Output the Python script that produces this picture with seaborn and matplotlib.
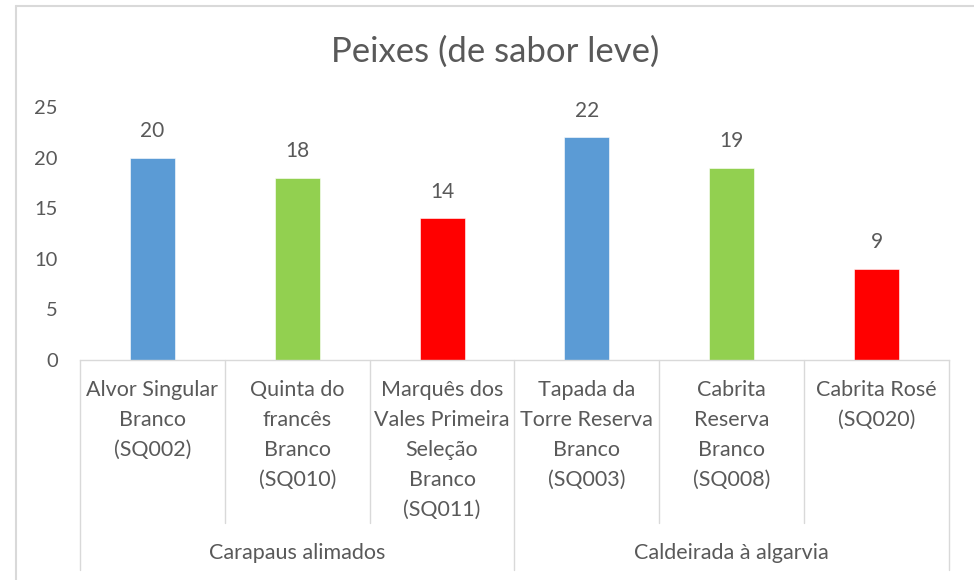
import matplotlib
matplotlib.use('Agg')
import matplotlib.pyplot as plt
import seaborn as sns
import pandas as pd
from matplotlib.lines import Line2D

title = "Peixes (de sabor leve)"
wines = ["Alvor Singular\nBranco\n(SQ002)",
         "Quinta do\nfrancês\nBranco\n(SQ010)",
         "Marquês dos\nVales Primeira\nSeleção\nBranco\n(SQ011)",
         "Tapada da\nTorre Reserva\nBranco\n(SQ003)",
         "Cabrita\nReserva\nBranco\n(SQ008)",
         "Cabrita Rosé\n(SQ020)"]
values = [20, 18, 14, 22, 19, 9]
bar_colors = ["#5B9BD5", "#92D050", "#FF0000", "#5B9BD5", "#92D050", "#FF0000"]
group_names = ["Carapaus alimados", "Caldeirada à algarvia"]
group_sizes = [3, 3]
yticks = [0, 5, 10, 15, 20, 25]

TXT = "#595959"
LINE = "#D9D9D9"

sns.set_theme(style="white")
plt.rcParams['font.family'] = ['Lato', 'DejaVu Sans']

W, H = 974, 580
fig = plt.figure(figsize=(W / 100, H / 100), dpi=100)
ax = fig.add_axes([80 / W, 1 - 360 / H, (949 - 80) / W, (360 - 107) / H])

df = pd.DataFrame({"wine": wines, "value": values})
sns.barplot(data=df, x="wine", y="value", hue="wine", palette=bar_colors,
            legend=False, width=0.31, saturation=1, ax=ax,
            edgecolor="white", linewidth=0.4)

ax.set_xlim(-0.5, len(wines) - 0.5)
ax.set_ylim(0, 25)
ax.set_yticks(yticks)
ax.set_yticklabels([str(t) for t in yticks])
ax.set_xlabel("")
ax.set_ylabel("")
ax.set_xticks(range(len(wines)))
ax.set_xticklabels([""] * len(wines))
for s in ["top", "right", "left"]:
    ax.spines[s].set_visible(False)
ax.spines["bottom"].set_color(LINE)
ax.spines["bottom"].set_linewidth(1)
ax.tick_params(axis="y", length=0, pad=16, labelsize=14.5, labelcolor=TXT)
ax.tick_params(axis="x", length=0)

tr = ax.get_xaxis_transform()
ah = 360 - 107

# category labels
for i, w in enumerate(wines):
    ax.text(i, -(380 - 360) / ah, w, transform=tr, ha="center", va="top",
            fontsize=15.5, color=TXT, linespacing=1.62)

# value labels
for cont in ax.containers:
    ax.bar_label(cont, labels=[f"{v:g}" for v in cont.datavalues], padding=12,
                 fontsize=15, color=TXT)

# multi-level category dividers
inner_bottom = -(523 - 360) / ah
outer_bottom = -(570 - 360) / ah
group_label_y = -(553 - 360) / ah
n = len(wines)
bounds = [0]
for g in group_sizes:
    bounds.append(bounds[-1] + g)
for i in range(n + 1):
    x = i - 0.5
    yb = outer_bottom if i in bounds else inner_bottom
    ax.plot([x, x], [0, yb], color=LINE, lw=1, transform=tr, clip_on=False)
for gi, name in enumerate(group_names):
    xc = (bounds[gi] + bounds[gi + 1]) / 2 - 0.5
    ax.text(xc, group_label_y, name, transform=tr, ha="center", va="center",
            fontsize=15.5, color=TXT)

fig.text(495 / W, 1 - 52 / H, title, ha="center", va="center",
         fontsize=25, color=TXT)

# chart frame (top and left edges)
fig.add_artist(Line2D([16 / W, 16 / W], [1 - 6 / H, 0], color=LINE, lw=1.5,
                      transform=fig.transFigure))
fig.add_artist(Line2D([16 / W, 1], [1 - 6 / H, 1 - 6 / H], color=LINE, lw=1.5,
                      transform=fig.transFigure))

fig.savefig("out.png", dpi=100)
